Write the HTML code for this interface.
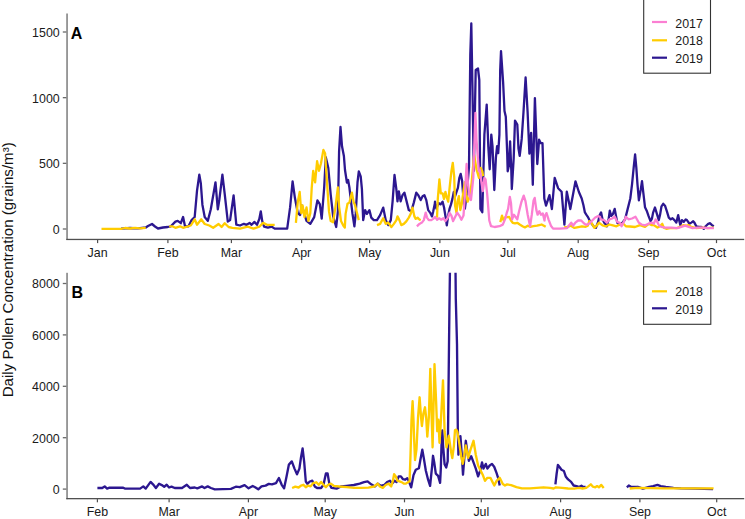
<!DOCTYPE html>
<html><head><meta charset="utf-8"><style>
html,body{margin:0;padding:0;background:#fff;width:745px;height:519px;overflow:hidden}
svg{display:block}
.t{font-family:"Liberation Sans",sans-serif;font-size:12.4px;fill:#1a1a1a}
.yt{font-family:"Liberation Sans",sans-serif;font-size:15.1px;fill:#111}
.lab{font-family:"Liberation Sans",sans-serif;font-size:16px;font-weight:bold;fill:#000}
</style></head><body>
<svg width="745" height="519" viewBox="0 0 745 519">
<rect width="745" height="519" fill="#fff"/>
<defs><clipPath id="cA"><rect x="68" y="13" width="677" height="226"/></clipPath><clipPath id="cB"><rect x="68" y="272.8" width="677" height="225.5"/></clipPath></defs>
<rect x="66.3" y="13.5" width="1.5" height="226.5" fill="#7d7d7d"/>
<rect x="66.3" y="238.8" width="677.9000000000001" height="1.3" fill="#505050"/>
<rect x="62.8" y="228.35" width="3.6" height="1.3" fill="#6a6a6a"/>
<text x="59.7" y="233.9" text-anchor="end" class="t">0</text>
<rect x="62.8" y="162.6833333333333" width="3.6" height="1.3" fill="#6a6a6a"/>
<text x="59.7" y="168.23333333333332" text-anchor="end" class="t">500</text>
<rect x="62.8" y="97.01666666666665" width="3.6" height="1.3" fill="#6a6a6a"/>
<text x="59.7" y="102.56666666666666" text-anchor="end" class="t">1000</text>
<rect x="62.8" y="31.35" width="3.6" height="1.3" fill="#6a6a6a"/>
<text x="59.7" y="36.9" text-anchor="end" class="t">1500</text>
<rect x="97.0" y="239.9" width="1.2" height="3.2" fill="#505050"/>
<text x="97.6" y="257.2" text-anchor="middle" class="t">Jan</text>
<rect x="167.3" y="239.9" width="1.2" height="3.2" fill="#505050"/>
<text x="167.9" y="257.2" text-anchor="middle" class="t">Feb</text>
<rect x="230.8" y="239.9" width="1.2" height="3.2" fill="#505050"/>
<text x="231.4" y="257.2" text-anchor="middle" class="t">Mar</text>
<rect x="301.0" y="239.9" width="1.2" height="3.2" fill="#505050"/>
<text x="301.6" y="257.2" text-anchor="middle" class="t">Apr</text>
<rect x="369.0" y="239.9" width="1.2" height="3.2" fill="#505050"/>
<text x="369.6" y="257.2" text-anchor="middle" class="t">May</text>
<rect x="439.3" y="239.9" width="1.2" height="3.2" fill="#505050"/>
<text x="439.9" y="257.2" text-anchor="middle" class="t">Jun</text>
<rect x="507.3" y="239.9" width="1.2" height="3.2" fill="#505050"/>
<text x="507.9" y="257.2" text-anchor="middle" class="t">Jul</text>
<rect x="577.6" y="239.9" width="1.2" height="3.2" fill="#505050"/>
<text x="578.2" y="257.2" text-anchor="middle" class="t">Aug</text>
<rect x="647.9" y="239.9" width="1.2" height="3.2" fill="#505050"/>
<text x="648.5" y="257.2" text-anchor="middle" class="t">Sep</text>
<rect x="715.9" y="239.9" width="1.2" height="3.2" fill="#505050"/>
<text x="716.5" y="257.2" text-anchor="middle" class="t">Oct</text>
<rect x="66.3" y="272.8" width="1.5" height="226.4" fill="#7d7d7d"/>
<rect x="66.3" y="498.0" width="677.9000000000001" height="1.3" fill="#505050"/>
<rect x="62.8" y="488.45000000000005" width="3.6" height="1.3" fill="#6a6a6a"/>
<text x="59.7" y="494.0" text-anchor="end" class="t">0</text>
<rect x="62.8" y="437.05000000000007" width="3.6" height="1.3" fill="#6a6a6a"/>
<text x="59.7" y="442.6" text-anchor="end" class="t">2000</text>
<rect x="62.8" y="385.65000000000003" width="3.6" height="1.3" fill="#6a6a6a"/>
<text x="59.7" y="391.2" text-anchor="end" class="t">4000</text>
<rect x="62.8" y="334.25" width="3.6" height="1.3" fill="#6a6a6a"/>
<text x="59.7" y="339.79999999999995" text-anchor="end" class="t">6000</text>
<rect x="62.8" y="282.85" width="3.6" height="1.3" fill="#6a6a6a"/>
<text x="59.7" y="288.4" text-anchor="end" class="t">8000</text>
<rect x="96.8" y="499.1" width="1.2" height="3.2" fill="#505050"/>
<text x="97.4" y="516.4" text-anchor="middle" class="t">Feb</text>
<rect x="168.5" y="499.1" width="1.2" height="3.2" fill="#505050"/>
<text x="169.1" y="516.4" text-anchor="middle" class="t">Mar</text>
<rect x="247.8" y="499.1" width="1.2" height="3.2" fill="#505050"/>
<text x="248.4" y="516.4" text-anchor="middle" class="t">Apr</text>
<rect x="324.6" y="499.1" width="1.2" height="3.2" fill="#505050"/>
<text x="325.2" y="516.4" text-anchor="middle" class="t">May</text>
<rect x="403.9" y="499.1" width="1.2" height="3.2" fill="#505050"/>
<text x="404.5" y="516.4" text-anchor="middle" class="t">Jun</text>
<rect x="480.7" y="499.1" width="1.2" height="3.2" fill="#505050"/>
<text x="481.3" y="516.4" text-anchor="middle" class="t">Jul</text>
<rect x="560.0" y="499.1" width="1.2" height="3.2" fill="#505050"/>
<text x="560.6" y="516.4" text-anchor="middle" class="t">Aug</text>
<rect x="639.3" y="499.1" width="1.2" height="3.2" fill="#505050"/>
<text x="639.9" y="516.4" text-anchor="middle" class="t">Sep</text>
<rect x="716.1" y="499.1" width="1.2" height="3.2" fill="#505050"/>
<text x="716.7" y="516.4" text-anchor="middle" class="t">Oct</text>
<path d="M121.0,228.6 L130.0,228.0 L138.0,228.3 L145.8,227.5 L148.0,226.0 L152.0,224.0 L155.0,226.5 L158.0,228.5 L163.0,227.5 L167.7,227.0 L170.8,226.3 L175.4,221.6 L177.7,220.9 L180.8,223.2 L183.1,217.0 L185.0,226.3 L188.5,226.3 L191.6,220.1 L194.7,217.0 L197.0,190.8 L199.3,174.6 L200.8,183.1 L202.4,204.7 L204.7,217.0 L207.8,220.9 L210.8,209.3 L215.5,182.3 L217.8,209.3 L219.3,200.0 L222.4,174.6 L224.7,193.9 L227.8,221.6 L230.1,220.1 L233.6,195.4 L236.3,224.7 L240.0,225.5 L243.9,223.8 L246.7,224.8 L249.6,222.9 L251.6,224.8 L254.5,221.9 L257.0,224.8 L259.3,219.0 L260.8,211.3 L262.2,220.9 L264.1,226.7 L267.9,227.7 L271.8,226.7 L274.7,228.6 L287.2,228.6 L290.1,207.4 L292.6,181.4 L294.9,197.8 L297.8,213.2 L300.1,215.1 L301.7,205.5 L303.6,211.3 L306.5,220.9 L310.3,223.8 L314.2,217.1 L317.4,200.5 L319.8,204.2 L321.7,218.6 L324.2,187.3 L325.8,157.2 L328.3,168.0 L330.7,194.5 L333.1,216.2 L336.2,227.0 L337.9,211.4 L339.1,151.1 L340.5,127.0 L342.0,146.3 L343.9,156.0 L345.0,170.0 L346.9,182.5 L348.1,180.0 L349.4,187.5 L351.3,203.8 L352.5,213.9 L354.4,226.4 L355.7,213.9 L357.5,182.5 L358.8,171.3 L360.7,176.3 L361.9,188.8 L363.2,220.1 L365.1,210.1 L366.9,213.9 L369.4,210.1 L371.3,217.6 L373.8,220.1 L377.0,220.1 L380.1,215.1 L383.2,207.6 L385.7,220.1 L388.2,225.1 L390.8,220.1 L392.6,201.3 L394.5,175.0 L396.3,188.8 L397.5,201.3 L398.8,191.3 L400.6,201.3 L402.5,195.1 L404.4,192.6 L406.3,200.1 L408.8,210.1 L411.3,211.4 L413.8,202.6 L416.3,192.6 L418.2,195.1 L420.7,200.1 L422.6,196.3 L424.4,195.1 L426.3,200.1 L428.2,210.1 L430.1,212.6 L432.0,216.4 L433.2,211.4 L434.8,203.8 L435.0,201.7 L436.4,208.6 L438.5,203.1 L440.6,204.4 L442.6,201.7 L444.0,207.2 L445.8,218.3 L446.8,225.3 L448.2,215.6 L449.6,208.6 L451.0,204.4 L452.4,198.9 L453.8,191.9 L455.1,196.1 L456.5,191.9 L457.9,187.8 L459.3,178.1 L460.7,173.9 L462.1,180.8 L463.5,198.9 L464.9,208.6 L466.3,197.5 L467.6,183.6 L469.0,166.9 L469.6,113.7 L470.3,54.2 L471.3,23.5 L472.4,85.0 L473.8,171.0 L475.7,70.0 L478.0,68.5 L479.3,80.0 L480.4,209.0 L482.3,212.3 L484.4,134.6 L486.7,104.6 L488.3,146.2 L489.7,169.3 L491.3,134.6 L492.5,146.2 L494.3,190.0 L495.9,157.7 L497.1,146.2 L498.2,153.1 L499.4,134.6 L500.2,70.0 L501.0,51.2 L503.1,82.0 L504.5,111.0 L505.8,116.7 L507.2,153.4 L507.7,171.3 L508.9,165.4 L510.1,141.3 L511.3,170.2 L511.8,189.0 L513.7,158.2 L515.0,120.6 L517.3,124.5 L518.5,148.6 L519.7,155.8 L521.7,138.9 L523.5,112.0 L525.6,77.5 L527.6,112.0 L529.4,153.6 L531.1,132.8 L532.8,184.8 L534.9,98.1 L537.3,164.0 L539.1,139.7 L540.8,143.2 L542.5,143.2 L544.3,198.6 L546.0,205.6 L549.5,195.2 L551.9,209.0 L554.7,177.9 L558.1,188.2 L561.6,191.7 L564.4,224.6 L566.8,191.7 L570.3,209.0 L575.5,181.3 L578.9,192.0 L581.7,198.5 L583.4,205.0 L584.9,212.4 L586.3,214.6 L587.8,216.8 L589.3,219.8 L591.5,223.5 L593.7,226.4 L595.9,227.9 L598.1,222.0 L599.6,215.3 L601.1,212.4 L602.5,219.3 L604.3,222.8 L606.9,226.3 L608.6,219.3 L609.8,210.7 L611.2,215.9 L612.9,214.1 L614.7,208.9 L616.0,215.9 L617.3,222.8 L619.9,224.5 L622.5,222.8 L625.1,219.3 L627.7,208.9 L630.3,198.5 L632.0,184.7 L633.7,167.3 L635.1,154.3 L636.3,167.3 L637.5,184.7 L638.9,200.3 L640.7,189.9 L642.0,181.2 L643.4,193.3 L645.0,207.2 L646.7,210.7 L648.5,215.9 L650.6,221.3 L651.9,218.8 L653.1,212.6 L655.0,207.5 L656.9,213.8 L658.8,220.1 L660.0,215.1 L661.5,206.3 L663.2,203.8 L665.0,205.7 L666.9,211.3 L668.8,217.6 L670.7,219.4 L672.5,218.2 L674.4,220.1 L676.3,222.6 L678.2,215.1 L679.4,221.3 L680.3,225.1 L681.9,220.1 L683.8,221.9 L685.7,219.4 L686.9,220.1 L688.2,221.9 L689.4,223.8 L691.3,222.6 L693.2,221.3 L694.4,222.6 L696.3,226.3 L698.8,226.9 L701.3,226.9 L703.8,228.8 L705.7,226.3 L708.2,223.8 L710.1,223.2 L712.0,225.1 L713.8,226.3" fill="none" stroke="#2c1790" stroke-width="2.3" stroke-linejoin="round" clip-path="url(#cA)"/>
<path d="M101.5,228.9 L121.0,228.9 L125.0,228.0 L130.0,228.5 L135.0,227.8 L140.0,228.3 L145.8,227.8 M169.2,226.3 L172.3,226.3 L175.4,227.8 L180.0,226.3 L183.1,227.8 L190.8,225.5 L194.7,219.3 L197.0,224.7 L201.3,219.3 L204.7,224.0 L209.3,225.5 L213.2,227.8 L218.6,224.0 L221.6,227.0 L224.7,223.2 L228.6,227.0 L232.4,227.8 L240.0,228.6 L247.7,226.7 L253.5,228.6 L259.3,226.7 L263.1,222.9 L267.0,224.8 L270.8,224.8 L274.7,224.8 M295.9,222.9 L297.8,201.7 L299.7,192.0 L301.3,213.2 L302.6,205.5 L304.5,217.0 L306.5,207.4 L308.4,220.9 L310.3,213.2 L311.7,188.2 L313.2,170.8 L315.1,182.4 L317.1,161.2 L319.0,170.8 L321.0,163.2 L323.4,149.9 L325.1,153.6 L327.0,182.5 L329.0,211.4 L330.7,221.0 L333.1,222.2 L335.5,206.6 L337.9,187.3 L339.1,206.6 L341.0,221.0 L343.4,225.8 L344.8,227.6 L345.6,213.9 L347.5,203.8 L349.4,202.6 L351.9,192.6 L353.8,202.6 L355.0,205.1 L356.9,212.6 L358.8,220.1 M377.0,225.1 L380.1,223.9 L383.2,218.2 L385.7,223.9 L388.2,222.6 L391.4,227.0 L393.9,223.9 L396.4,220.1 L397.5,216.4 L399.4,220.1 L401.3,225.1 L403.8,223.9 L406.3,221.4 L408.8,217.6 L410.7,213.9 L412.5,207.6 L414.4,216.4 L415.7,218.9 L417.6,217.6 L419.4,219.5 L420.7,220.1 M437.0,217.6 L437.8,198.9 L439.4,179.4 L440.8,193.3 L442.6,193.3 L444.0,198.9 L445.4,191.9 L446.8,197.5 L448.2,201.7 L449.6,187.8 L451.4,171.1 L452.8,162.8 L454.2,176.7 L455.1,205.8 L456.5,212.8 L457.5,201.7 L458.9,196.1 L460.3,210.0 L461.7,204.4 L463.5,190.6 L464.9,182.2 L466.3,194.7 L467.6,201.7 L470.0,195.9 L471.6,182.8 L474.1,154.9 L476.6,169.7 L479.0,177.9 L480.7,168.0 L482.3,171.3 L483.1,176.2 M500.3,222.1 L502.0,215.6 L503.6,220.5 L505.2,217.2 L507.7,217.2 L509.2,217.0 L511.0,220.5 L512.7,222.8 L515.0,223.4 L517.3,222.8 L519.7,224.5 L522.5,226.2 L524.9,227.4 L527.7,225.7 L530.1,226.8 L533.5,226.2 L537.0,225.7 L539.3,225.1 L541.6,224.5 L543.9,225.7 L545.7,226.8 M564.2,227.1 L567.1,227.1 L570.8,225.7 L574.5,227.9 L578.2,227.1 L581.9,226.4 L585.6,226.8 L587.8,225.7 L589.3,221.2 L590.8,222.0 L592.2,224.2 L594.4,227.9 L596.7,225.7 L598.9,222.7 L602.5,225.4 L606.0,226.3 L609.5,224.5 L612.9,225.4 L616.4,226.3 L619.9,224.5 L623.3,223.7 L625.9,226.3 L630.0,226.5 L635.0,227.0 L640.0,225.1 L645.0,226.9 L648.8,223.8 L651.3,225.1 L653.8,225.1 L655.6,226.3 L657.5,227.6 L660.0,226.3 L662.3,223.8 L663.8,227.6 L666.3,228.8 L670.0,228.2 L676.3,228.2 L681.3,226.3 L683.2,225.1 L686.3,225.7 L688.8,225.1 L691.3,226.9 L696.3,228.2 L702.6,227.6 L707.6,228.2 L713.8,227.6" fill="none" stroke="#ffcc00" stroke-width="2.3" stroke-linejoin="round" clip-path="url(#cA)"/>
<path d="M416.9,226.4 L419.4,223.9 L421.9,222.6 L423.8,220.1 L425.7,212.6 L427.0,217.6 L428.8,220.1 L431.3,220.1 L433.2,218.9 L435.0,216.9 L437.1,219.7 L439.2,218.3 L441.3,219.7 L443.3,218.3 L445.4,221.1 L447.5,218.3 L449.6,212.8 L451.4,215.6 L453.1,221.1 L455.1,216.9 L457.2,212.8 L459.3,215.6 L461.4,219.7 L463.5,215.6 L464.9,195.0 L466.6,164.0 L467.9,182.8 L469.2,195.0 L471.0,200.0 L473.3,177.6 L474.5,140.0 L475.4,113.0 L476.5,140.0 L477.7,155.4 L478.8,171.0 L479.8,169.7 L481.5,182.8 L482.8,191.0 L484.4,177.9 L485.6,179.5 L487.2,194.3 L489.3,220.5 L491.0,226.2 L494.6,227.0 L499.5,226.2 L502.8,224.6 L505.2,218.9 L506.9,212.3 L508.1,208.9 L509.8,196.8 L511.0,203.1 L512.1,219.3 L513.9,214.7 L515.6,217.0 L517.3,219.3 L519.1,211.2 L521.4,202.0 L523.7,195.6 L525.4,200.8 L527.7,214.7 L530.1,226.2 L531.8,214.7 L533.5,200.8 L534.7,197.9 L536.4,210.1 L537.6,214.7 L539.3,211.2 L541.0,214.7 L542.8,213.5 L544.5,220.5 L545.0,216.1 L546.5,213.1 L548.7,219.8 L550.9,225.7 L553.1,228.6 L559.8,228.6 L567.1,228.2 L569.4,224.9 L571.2,222.7 L573.0,225.7 L575.3,222.7 L578.2,220.5 L581.2,220.5 L584.1,223.5 L586.3,224.9 L589.3,223.5 L592.2,220.5 L595.2,217.5 L598.1,216.1 L600.0,216.8 L600.8,219.3 L604.3,220.2 L606.9,222.8 L609.5,219.3 L612.1,218.5 L614.7,216.7 L617.3,221.9 L619.9,222.8 L621.6,226.3 L624.2,221.1 L625.9,216.7 L628.5,219.3 L632.0,218.5 L635.5,216.7 L638.9,222.8 L641.5,224.5 L645.0,225.4 L648.5,223.7 L651.9,222.6 L653.8,223.8 L655.6,219.4 L656.9,221.3 L658.8,225.1 L661.3,226.9 L665.0,227.6 L671.3,227.6 L677.5,228.2 L681.3,226.9 L685.1,225.7 L688.8,226.9 L692.6,228.2 L697.6,227.6 L702.6,227.6 L707.6,228.2 L713.8,228.2" fill="none" stroke="#fb7fd2" stroke-width="2.3" stroke-linejoin="round" clip-path="url(#cA)"/>
<path d="M97.4,488.0 L102.2,488.0 L104.7,486.4 L107.1,488.6 L109.5,487.7 L123.2,487.7 L124.8,488.6 L140.1,488.6 L143.3,486.4 L145.7,488.6 L150.6,481.9 L153.0,484.3 L155.9,488.0 L159.1,483.8 L161.8,485.1 L164.2,486.7 L166.7,484.8 L169.1,487.5 L171.5,486.7 L174.7,488.0 L182.0,488.0 L186.8,484.8 L190.0,488.0 L194.8,487.5 L197.3,488.3 L202.1,486.4 L204.5,488.0 L207.7,486.4 L210.9,488.0 L214.8,489.3 L230.9,488.9 L235.8,486.7 L239.8,487.2 L244.6,485.1 L248.6,488.3 L252.7,486.0 L255.1,487.2 L258.3,489.3 L261.5,486.4 L265.6,485.6 L268.8,483.9 L272.0,484.4 L276.0,483.1 L278.9,478.0 L281.7,484.8 L284.1,488.3 L286.5,476.7 L288.9,464.6 L291.8,461.4 L294.5,468.6 L297.0,474.3 L299.4,468.6 L301.0,457.4 L302.6,448.5 L304.2,462.2 L305.8,481.5 L307.4,483.9 L309.8,481.5 L312.3,480.7 L314.7,486.4 L317.1,488.0 L321.1,488.0 L323.5,484.8 L325.9,473.5 L327.6,473.5 L329.3,483.6 L331.5,487.9 L336.6,488.6 L340.9,486.5 L346.7,485.8 L353.9,485.0 L359.7,483.6 L364.0,482.1 L367.6,481.4 L371.2,484.3 L374.9,486.5 L377.7,483.6 L380.6,485.8 L384.2,485.0 L387.1,482.1 L390.0,480.7 L392.2,483.6 L394.4,480.7 L396.5,482.1 L398.7,476.4 L400.9,476.4 L403.0,479.2 L405.0,479.7 L407.3,478.2 L408.9,481.3 L411.2,487.4 L413.5,475.1 L415.8,469.7 L418.9,468.2 L420.4,459.7 L422.3,449.7 L423.8,458.1 L425.8,470.5 L428.1,479.7 L430.1,485.9 L432.0,467.4 L433.0,455.8 L434.3,462.8 L435.8,473.6 L438.1,475.9 L440.1,482.8 L440.8,468.9 L441.5,445.8 L442.3,430.4 L443.1,445.8 L444.6,464.3 L446.2,467.4 L447.7,461.2 L449.4,310.0 L451.2,180.0 L454.6,180.0 L455.8,299.0 L457.0,344.0 L457.8,428.0 L458.4,454.7 L460.4,436.2 L461.9,456.2 L463.0,474.7 L464.2,459.3 L465.8,440.8 L467.3,451.6 L468.9,460.8 L471.2,456.2 L473.5,462.4 L475.8,468.6 L478.1,476.3 L480.4,470.1 L482.0,462.4 L483.5,468.6 L485.8,463.9 L487.4,468.6 L489.7,465.5 L492.0,463.9 L494.3,467.0 L496.6,473.2 L498.1,477.8 L499.7,485.5 M555.4,484.3 L556.6,474.0 L557.9,464.9 L559.7,467.3 L561.5,469.8 L563.9,471.0 L565.7,476.4 L568.1,479.4 L571.1,481.8 L573.6,485.5 L576.6,486.1 L579.0,487.0 L581.4,485.8 L583.2,487.0 L585.6,487.0 M626.9,487.4 L628.8,485.5 L631.4,487.0 L637.8,486.8 L642.9,488.7 L649.2,486.8 L653.1,486.1 L657.5,484.9 L660.7,486.1 L665.8,487.0 L673.5,487.8 L681.1,488.3 L695.2,488.7 L713.0,489.1" fill="none" stroke="#2c1790" stroke-width="2.35" stroke-linejoin="round" clip-path="url(#cB)"/>
<path d="M292.1,488.0 L295.3,486.7 L298.6,487.5 L301.0,485.6 L303.4,484.8 L305.8,487.2 L308.2,485.6 L310.6,486.4 L313.1,483.1 L316.3,482.3 L318.7,484.8 L321.1,481.9 L323.5,484.8 L325.9,487.2 L327.9,485.0 L330.8,483.6 L333.7,485.8 L339.5,486.5 L346.7,487.2 L353.9,487.9 L361.1,487.9 L368.4,487.6 L374.1,486.5 L377.7,483.6 L379.9,486.5 L382.8,487.9 L385.7,485.0 L388.6,483.6 L391.2,486.5 L392.9,480.7 L394.1,474.2 L395.8,476.4 L397.3,480.7 L399.4,481.4 L401.6,482.1 L403.8,483.6 L405.9,483.6 L408.1,482.1 L409.6,481.3 L410.5,455.0 L411.5,420.0 L412.6,401.2 L413.5,420.0 L414.2,441.0 L415.0,460.0 L416.5,449.0 L418.0,418.0 L419.6,397.3 L421.1,418.0 L421.9,426.0 L423.4,413.5 L425.0,407.3 L426.2,418.0 L427.3,436.6 L428.8,418.0 L430.3,368.9 L431.5,412.7 L432.6,447.4 L434.5,364.2 L436.1,401.2 L437.2,431.2 L438.4,419.7 L439.5,442.8 L440.7,424.3 L443.0,380.4 L444.6,431.2 L446.5,447.4 L448.8,435.8 L451.1,452.0 L452.3,458.1 L453.9,445.8 L455.0,430.0 L456.2,429.6 L457.3,431.6 L458.9,440.8 L461.2,456.2 L462.7,463.9 L464.2,456.2 L465.8,445.4 L468.1,457.8 L470.4,450.1 L473.5,440.8 L475.8,454.7 L478.1,465.5 L480.4,470.1 L482.7,474.7 L485.0,480.9 L487.4,477.8 L490.4,477.8 L492.7,482.4 L494.3,485.5 L496.6,480.9 L499.7,477.8 L502.8,484.0 L505.0,485.5 L507.0,484.4 L511.1,485.1 L516.5,487.1 L521.9,488.4 L530.0,488.4 L536.7,487.8 L543.5,487.3 L550.0,487.9 L553.6,488.5 L556.0,487.3 L562.1,487.9 L568.1,488.5 L574.2,488.7 L579.0,487.9 L582.6,488.5 L586.2,487.9 L588.6,486.1 L590.8,484.3 L592.9,486.7 L595.3,487.3 L597.1,486.1 L598.9,487.3 L601.3,484.9 L603.7,487.9 M629.7,488.5 L637.8,487.8 L650.5,488.1 L663.3,488.3 L676.0,488.3 L688.8,488.3 L701.5,488.3 L713.6,488.3" fill="none" stroke="#ffcc00" stroke-width="2.35" stroke-linejoin="round" clip-path="url(#cB)"/>
<text x="70.8" y="38.8" class="lab">A</text>
<text x="71.5" y="297.9" class="lab">B</text>
<rect x="643.7" y="-5" width="66.8" height="78.2" fill="none" stroke="#333333" stroke-width="1.1"/>
<rect x="652" y="20.9" width="15" height="2.2" fill="#fb7fd2"/>
<text x="675.3" y="27.5" class="t">2017</text>
<rect x="652" y="39.199999999999996" width="15" height="2.2" fill="#ffcc00"/>
<text x="675.3" y="45.2" class="t">2018</text>
<rect x="652" y="56.6" width="15" height="2.2" fill="#2c1790"/>
<text x="675.3" y="62.6" class="t">2019</text>
<rect x="643.6" y="266.8" width="67.2" height="57.5" fill="none" stroke="#333333" stroke-width="1.1"/>
<rect x="652" y="290.2" width="15" height="2.2" fill="#ffcc00"/>
<text x="675.3" y="296.3" class="t">2018</text>
<rect x="652" y="307.2" width="15" height="2.2" fill="#2c1790"/>
<text x="675.3" y="314.0" class="t">2019</text>
<text transform="translate(13.0,269.8) rotate(-90)" text-anchor="middle" class="yt">Daily Pollen Concentration (grains/m³)</text>
</svg>
</body></html>
